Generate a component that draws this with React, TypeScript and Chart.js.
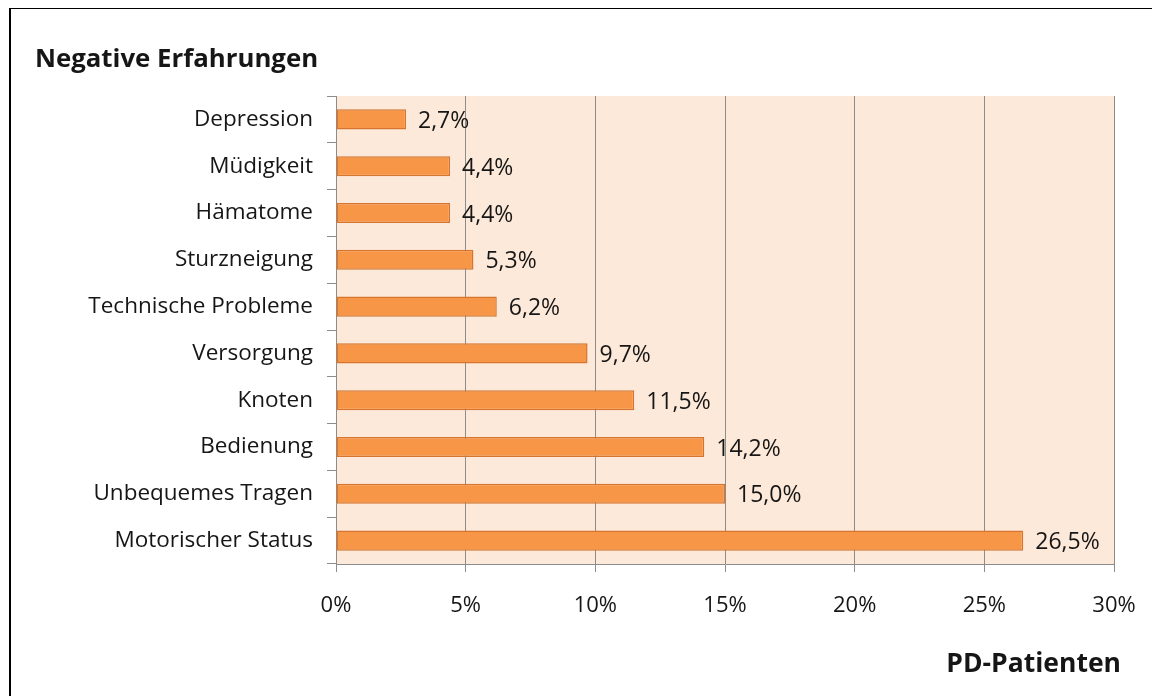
import React, { useEffect, useRef } from "react";
import { Chart, registerables } from "chart.js";

Chart.register(...registerables);

const categories = [
  "Depression",
  "Müdigkeit",
  "Hämatome",
  "Sturzneigung",
  "Technische Probleme",
  "Versorgung",
  "Knoten",
  "Bedienung",
  "Unbequemes Tragen",
  "Motorischer Status",
];
const values = [2.7, 4.4, 4.4, 5.3, 6.2, 9.7, 11.5, 14.2, 15.0, 26.5];
const xTicks = [0, 5, 10, 15, 20, 25, 30];
const chartTitle = "Negative Erfahrungen";
const axisTitle = "PD-Patienten";

const FONT = "'Open Sans', 'Noto Sans', sans-serif";
const TEXT = "#161616";

const extras = {
  id: "extras",
  beforeDraw(chart: any) {
    const { ctx, chartArea } = chart;
    ctx.save();
    ctx.fillStyle = "#FDE9D9";
    ctx.fillRect(chartArea.left, chartArea.top, chartArea.right - chartArea.left, chartArea.bottom - chartArea.top);
    ctx.restore();
  },
  afterDraw(chart: any) {
    const { ctx } = chart;
    ctx.save();
    // title
    ctx.fillStyle = TEXT;
    ctx.font = `bold 25.8px ${FONT}`;
    ctx.textBaseline = "middle";
    ctx.textAlign = "left";
    ctx.fillText(chartTitle, 24, 51);
    // axis title
    ctx.font = `bold 26.5px ${FONT}`;
    ctx.textAlign = "right";
    ctx.fillText(axisTitle, 1110, 655);
    // data labels
    const meta = chart.getDatasetMeta(0);
    ctx.font = `23px ${FONT}`;
    ctx.textAlign = "left";
    meta.data.forEach((bar: any, i: number) => {
      const v = values[i];
      ctx.fillText(v.toFixed(1).replace(".", ",") + "%", bar.x + 12, bar.y + 2);
    });
    ctx.restore();
  },
};

export default function App() {
  const ref = useRef<HTMLCanvasElement>(null);
  useEffect(() => {
    const chart = new Chart(ref.current!, {
      type: "bar",
      data: {
        labels: categories,
        datasets: [
          {
            data: values,
            backgroundColor: "#F79646",
            borderColor: "#D5752F",
            borderWidth: 1.5,
            borderSkipped: false,
            barPercentage: 0.43,
            categoryPercentage: 1,
          },
        ],
      },
      options: {
        indexAxis: "y",
        animation: false,
        responsive: false,
        maintainAspectRatio: false,
        layout: { padding: { left: 0, top: 87, right: 46, bottom: 72 } },
        plugins: { legend: { display: false }, title: { display: false }, tooltip: { enabled: false } },
        scales: {
          x: {
            min: 0,
            max: 30,
            afterBuildTicks(scale: any) {
              scale.ticks = xTicks.map((v) => ({ value: v }));
            },
            afterFit(scale: any) {
              scale.height = 60;
            },
            ticks: {
              color: TEXT,
              font: { family: FONT, size: 22 },
              padding: 21,
              callback: (v: any) => v + "%",
              maxRotation: 0,
            },
            grid: { color: "#8c8c8c", lineWidth: 1, tickLength: 8, drawTicks: true },
            border: { display: true, color: "#8c8c8c" },
          },
          y: {
            afterFit(scale: any) {
              scale.width = 325;
            },
            ticks: {
              color: TEXT,
              font: { family: FONT, size: 22.5 },
              padding: 14,
            },
            grid: { drawOnChartArea: false, color: "#8c8c8c", tickLength: 9, offset: true },
            border: { display: true, color: "#8c8c8c" },
          },
        },
      },
      plugins: [extras],
    } as any);
    return () => chart.destroy();
  }, []);
  return (
    <div
      style={{
        position: "relative",
        width: 1152,
        height: 689,
        borderTop: "2px solid #000",
        borderLeft: "2px solid #000",
        boxSizing: "border-box",
        marginLeft: 1,
        marginTop: -1,
        overflow: "hidden",
      }}
    >
      <canvas ref={ref} width={1149} height={687} style={{ display: "block", width: 1149, height: 687 }} />
    </div>
  );
}
